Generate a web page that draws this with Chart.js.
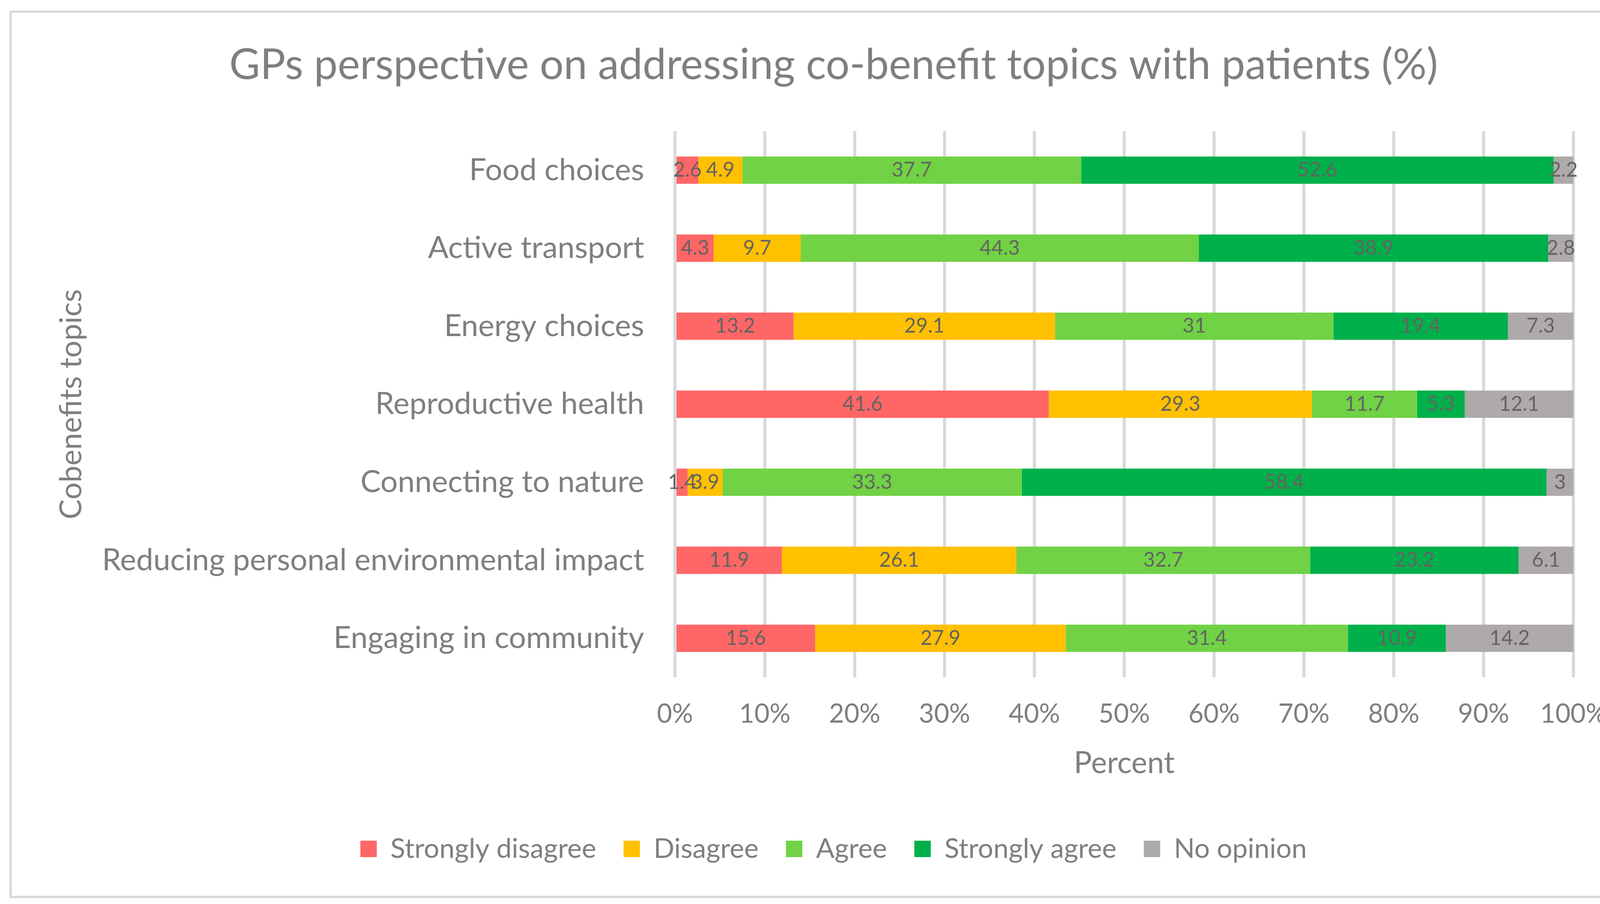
<!DOCTYPE html>
<html>
<head>
<meta charset="utf-8">
<script src="https://cdn.jsdelivr.net/npm/chart.js@4/dist/chart.umd.min.js"></script>
<style>
  html, body { margin: 0; padding: 0; background: #fff; }
  #frame { position: absolute; left: 24px; top: 27px; width: 4166px; height: 2259px; border: 6px solid #d9d9d9; }
  #chart { position: absolute; left: 0; top: 0; }
</style>
</head>
<body>
<div id="frame"></div>
<canvas id="chart" width="4228" height="2313"></canvas>
<script>
const topics = ['Food choices', 'Active transport', 'Energy choices', 'Reproductive health',
  'Connecting to nature', 'Reducing personal environmental impact', 'Engaging in community'];
const stronglyDisagree = [2.6, 4.3, 13.2, 41.6, 1.4, 11.9, 15.6];
const disagree = [4.9, 9.7, 29.1, 29.3, 3.9, 26.1, 27.9];
const agree = [37.7, 44.3, 31, 11.7, 33.3, 32.7, 31.4];
const stronglyAgree = [52.6, 38.9, 19.4, 5.3, 58.4, 23.2, 10.9];
const noOpinion = [2.2, 2.8, 7.3, 12.1, 3, 6.1, 14.2];
const tickLabels = ['0%', '10%', '20%', '30%', '40%', '50%', '60%', '70%', '80%', '90%', '100%'];

const FONT = 'Lato';
const TEXT = '#7f7f7f';

// values written in the middle of each segment
const segmentLabels = {
  id: 'segmentLabels',
  afterDatasetsDraw(chart) {
    const ctx = chart.ctx;
    ctx.save();
    ctx.font = '52px ' + FONT;
    ctx.fillStyle = '#636363';
    ctx.textAlign = 'center';
    ctx.textBaseline = 'middle';
    chart.data.datasets.forEach((ds, i) => {
      chart.getDatasetMeta(i).data.forEach((bar, j) => {
        ctx.fillText(String(ds.data[j]), (bar.x + bar.base) / 2, bar.y);
      });
    });
    ctx.restore();
  }
};

new Chart(document.getElementById('chart'), {
  type: 'bar',
  data: {
    labels: topics,
    datasets: [
      { label: 'Strongly disagree', data: stronglyDisagree, backgroundColor: '#ff6666' },
      { label: 'Disagree', data: disagree, backgroundColor: '#ffc000' },
      { label: 'Agree', data: agree, backgroundColor: '#70d244' },
      { label: 'Strongly agree', data: stronglyAgree, backgroundColor: '#00b04a' },
      { label: 'No opinion', data: noOpinion, backgroundColor: '#aeaaaa' },
    ],
  },
  options: {
    indexAxis: 'y',
    responsive: false,
    devicePixelRatio: 1,
    animation: false,
    datasets: { bar: { barPercentage: 0.35, categoryPercentage: 1, borderWidth: 0 } },
    layout: { padding: { left: 80, right: 40, top: 40, bottom: 96 } },
    plugins: {
      title: {
        display: true,
        text: 'GPs perspective on addressing co-benefit topics with patients (%)',
        color: TEXT,
        font: { family: FONT, size: 108, weight: 'normal' },
        padding: { top: 62, bottom: 104 },
      },
      legend: {
        position: 'bottom',
        labels: { color: TEXT, font: { family: FONT, size: 70 }, boxWidth: 42, boxHeight: 42, padding: 70 },
      },
      tooltip: { enabled: false },
    },
    scales: {
      x: {
        stacked: true, min: 0, max: 100,
        grid: { color: '#d9d9d9', lineWidth: 8, drawTicks: false },
        border: { display: false },
        ticks: { stepSize: 10, color: TEXT, font: { family: FONT, size: 67 }, padding: 54,
          callback: (v, i) => tickLabels[i] },
        title: { display: true, text: 'Percent', color: TEXT, font: { family: FONT, size: 77 }, padding: { top: 0, bottom: 68 } },
        afterFit: (s) => { s.height = 334; },
      },
      y: {
        stacked: true,
        grid: { display: false, drawTicks: false },
        border: { display: false },
        ticks: { color: TEXT, font: { family: FONT, size: 78 }, padding: 79 },
        title: { display: true, text: 'Cobenefits topics', color: TEXT, font: { family: FONT, size: 77 }, padding: { top: 57, bottom: 0 } },
        afterFit: (s) => { s.width = 1648; },
      },
      y2: {
        type: 'category', position: 'right',
        grid: { display: false, drawTicks: false },
        border: { display: false },
        ticks: { display: false },
        afterFit: (s) => { s.width = 160; },
      },
    },
  },
  plugins: [segmentLabels],
});
</script>
</body>
</html>
